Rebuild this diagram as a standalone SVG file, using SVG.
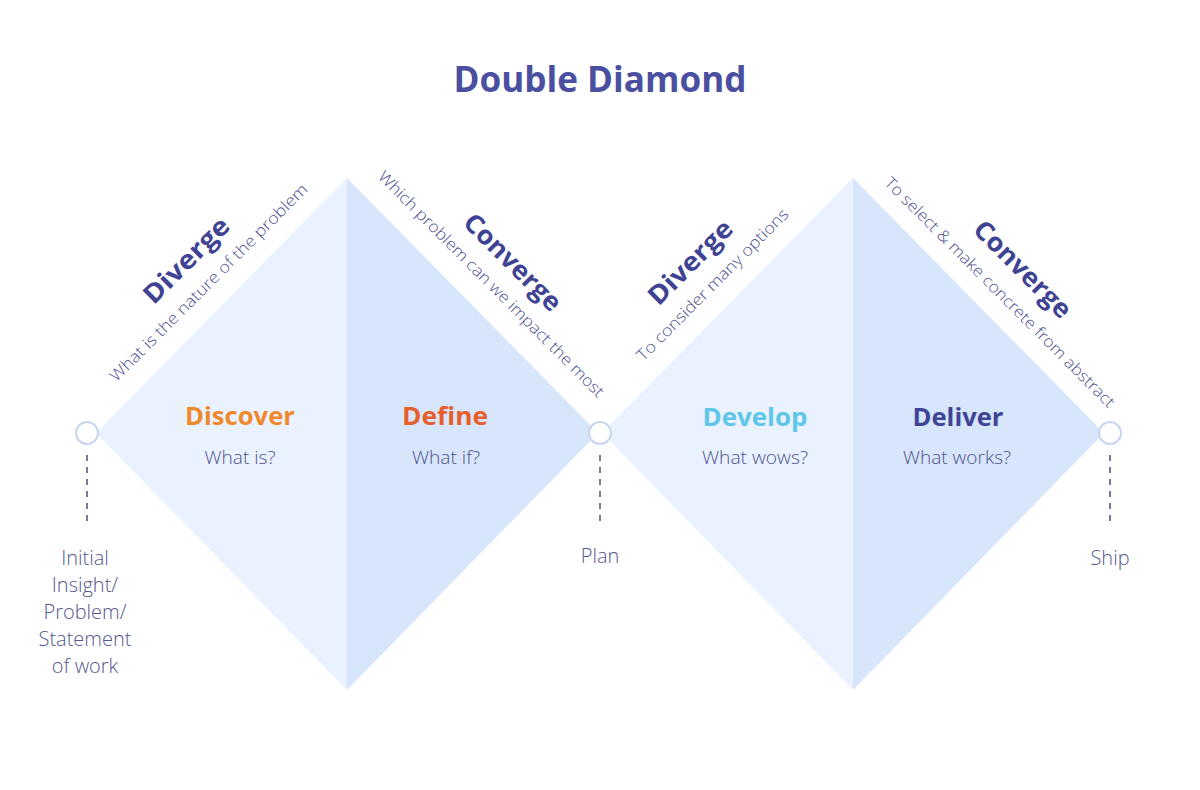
<svg xmlns="http://www.w3.org/2000/svg" width="1200" height="790" viewBox="0 0 1200 790">
<style>
text{font-family:"Open Sans","Liberation Sans",sans-serif}
.title{font-size:35px;font-weight:700;fill:#4b4f9f}
.phase{font-size:25px;font-weight:700;text-anchor:middle}
.q{font-size:18px;font-weight:300;fill:#4e528f;text-anchor:middle}
.dir{font-size:26px;font-weight:700;fill:#3f4393;text-anchor:middle}
.sub{font-size:16px;font-weight:300;fill:#4c5090;text-anchor:middle}
.lbl{font-size:20px;font-weight:300;fill:#55578f;text-anchor:middle}
.light{fill:#e9f2fe}
.dark{fill:#d8e6fb}
.node{fill:#ffffff;stroke:#c9d5ef;stroke-width:2}
.dash{stroke:#4a4d80;stroke-width:1.5;stroke-dasharray:6 6;fill:none}
</style>
<rect width="1200" height="790" fill="#ffffff"/>
<text class="title" x="600" y="92" text-anchor="middle" textLength="293" lengthAdjust="spacingAndGlyphs">Double Diamond</text>
<g id="diamond-1">
<polygon class="light" points="96,433 347,178 347,690"/>
<polygon class="dark" points="347,178 598,433 347,690"/>
</g>
<g id="diamond-2">
<polygon class="light" points="602,433 853,178 853,690"/>
<polygon class="dark" points="853,178 1104,433 853,690"/>
</g>
<g id="discover">
<text class="phase" x="240" y="425" fill="#f0892b" textLength="110" lengthAdjust="spacingAndGlyphs">Discover</text>
<text class="q" x="240" y="464" textLength="71" lengthAdjust="spacingAndGlyphs">What is?</text>
</g>
<g id="define">
<text class="phase" x="445" y="425" fill="#e65f2d" textLength="86" lengthAdjust="spacingAndGlyphs">Define</text>
<text class="q" x="446" y="464" textLength="68" lengthAdjust="spacingAndGlyphs">What if?</text>
</g>
<g id="develop">
<text class="phase" x="755" y="426" fill="#5ec6e8" textLength="105" lengthAdjust="spacingAndGlyphs">Develop</text>
<text class="q" x="755" y="464" textLength="106" lengthAdjust="spacingAndGlyphs">What wows?</text>
</g>
<g id="deliver">
<text class="phase" x="958" y="426" fill="#3f4596" textLength="91" lengthAdjust="spacingAndGlyphs">Deliver</text>
<text class="q" x="957" y="464" textLength="108" lengthAdjust="spacingAndGlyphs">What works?</text>
</g>
<g id="diverge-1" transform="translate(187,261) rotate(-45)">
<text class="dir" x="0" y="8" textLength="110" lengthAdjust="spacingAndGlyphs">Diverge</text>
<text class="sub" x="0" y="36" textLength="272" lengthAdjust="spacingAndGlyphs">What is the nature of the problem</text>
</g>
<g id="converge-1" transform="translate(512,263) rotate(45)">
<text class="dir" x="0" y="8" textLength="126" lengthAdjust="spacingAndGlyphs">Converge</text>
<text class="sub" x="0" y="35" textLength="312" lengthAdjust="spacingAndGlyphs">Which problem can we impact the most</text>
</g>
<g id="diverge-2" transform="translate(691,263) rotate(-45)">
<text class="dir" x="0" y="8" textLength="108" lengthAdjust="spacingAndGlyphs">Diverge</text>
<text class="sub" x="0" y="36" textLength="207" lengthAdjust="spacingAndGlyphs">To consider many options</text>
</g>
<g id="converge-2" transform="translate(1022,270) rotate(45)">
<text class="dir" x="0" y="8" textLength="126" lengthAdjust="spacingAndGlyphs">Converge</text>
<text class="sub" x="0" y="37" textLength="318" lengthAdjust="spacingAndGlyphs">To select &amp; make concrete from abstract</text>
</g>
<g id="connectors">
<line class="dash" x1="87" y1="455" x2="87" y2="527"/>
<line class="dash" x1="600" y1="455" x2="600" y2="527"/>
<line class="dash" x1="1110" y1="455" x2="1110" y2="527"/>
</g>
<g id="start">
<circle class="node" cx="87" cy="433" r="11"/>
<text class="lbl" x="85" y="565">Initial</text>
<text class="lbl" x="85" y="592">Insight/</text>
<text class="lbl" x="85" y="619">Problem/</text>
<text class="lbl" x="85" y="646">Statement</text>
<text class="lbl" x="85" y="673">of work</text>
</g>
<g id="plan">
<circle class="node" cx="600" cy="433" r="11"/>
<text class="lbl" x="600" y="563">Plan</text>
</g>
<g id="ship">
<circle class="node" cx="1110" cy="433" r="11"/>
<text class="lbl" x="1110" y="565">Ship</text>
</g>
</svg>
